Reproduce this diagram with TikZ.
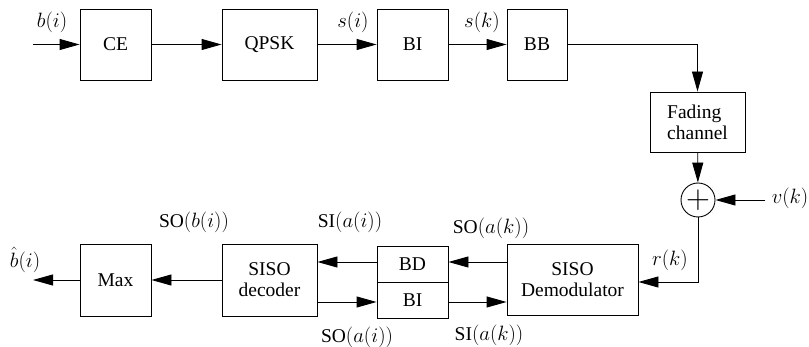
\documentclass[tikz,border=0pt]{standalone}
\usepackage{fontspec}
\setmainfont{Liberation Serif}
\usetikzlibrary{arrows.meta,calc}
\begin{document}
\begin{tikzpicture}[x=1pt,y=-1pt,
  font=\fontsize{19.5}{21}\selectfont,
  blk/.style={draw,line width=0.9pt,inner sep=0pt,align=center},
  conn/.style={line width=0.9pt,-{Triangle[length=20pt,width=11pt]}},
  lbl/.style={inner sep=0pt}]
\useasboundingbox (0,0) rectangle (809,347);
% top row
\node[blk,minimum width=71,minimum height=71] (ce) at (115.5,44.5) {CE};
\node[blk,minimum width=95,minimum height=71] (qpsk) at (269.5,44.5) {QPSK};
\node[blk,minimum width=71,minimum height=71] (bi1) at (412.5,44.5) {BI};
\node[blk,minimum width=60,minimum height=71] (bb) at (537,44.5) {BB};
\node[blk,minimum width=95,minimum height=60,align=left] (fad) at (697.5,122) {Fading\\channel};
\node[draw,circle,line width=0.9pt,minimum size=34,inner sep=0pt] (sum) at (698,200) {};
\node[inner sep=0pt,scale=1.6] (plus) at (698,200.5) {$\mathbf{+}$};
% bottom row
\node[blk,minimum width=131,minimum height=71] (dem) at (572.5,279.5) {SISO\\Demodulator};
\node[blk,minimum width=71,minimum height=36] (bd) at (412.5,264) {BD};
\node[blk,minimum width=71,minimum height=36] (bi2) at (412.5,300) {BI};
\node[blk,minimum width=95,minimum height=72] (dec) at (269.5,280) {SISO\\decoder};
\node[blk,minimum width=71,minimum height=72] (max) at (115.5,280) {Max};
% free ends and turn points
\coordinate (in) at (33,44.5);
\coordinate (vk) at (765,200);
\coordinate (out) at (33,280);
\coordinate (rk) at (698,282);
\coordinate (a1) at ($(dem.west)+(0,-17.5)$);
\coordinate (a2) at ($(bi2.east)+(0,2)$);
\coordinate (a3) at ($(bd.west)+(0,-2)$);
\coordinate (a4) at ($(dec.east)+(0,22)$);
% connectors
\draw[conn] (in) -- (ce);
\draw[conn] (ce) -- (qpsk);
\draw[conn] (qpsk) -- (bi1);
\draw[conn] (bi1) -- (bb);
\draw[conn] (bb.east) -| (fad.north);
\draw[conn] (fad) -- (sum);
\draw[conn] (vk) -- (sum);
\draw[conn] (sum.south) -- (rk) -- (rk -| dem.east);
\draw[conn] (a1) -- (a1 -| bd.east);
\draw[conn] (a2) -- (a2 -| dem.west);
\draw[conn] (a3) -- (a3 -| dec.east);
\draw[conn] (a4) -- (a4 -| bi2.west);
\draw[conn] (dec) -- (max);
\draw[conn] (max) -- (out);
% labels
\node[lbl] (lb) at (52,22) {$b(i)$};
\node[lbl] (ls) at (353,22) {$s(i)$};
\node[lbl] (lsk) at (482,22) {$s(k)$};
\node[lbl] (lv) at (790,198) {$v(k)$};
\node[lbl] (lr) at (670,260) {$r(k)$};
\node[lbl] (l1) at (491,228) {SO$\big(a(k)\big)$};
\node[lbl] (l2) at (489,335) {SI$\big(a(k)\big)$};
\node[lbl] (l3) at (194,222) {SO$\big(b(i)\big)$};
\node[lbl] (l4) at (350,222) {SI$\big(a(i)\big)$};
\node[lbl] (l5) at (357,337) {SO$\big(a(i)\big)$};
\node[lbl] (l6) at (25,260) {$\hat b(i)$};
\end{tikzpicture}
\end{document}
